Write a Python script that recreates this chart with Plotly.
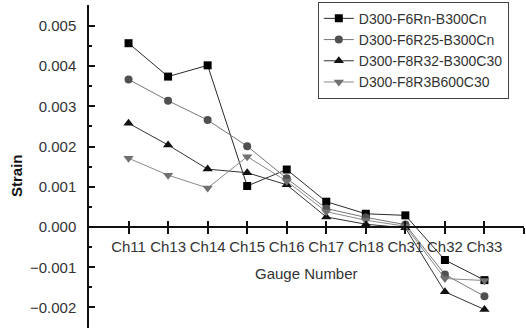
import plotly.graph_objects as go

categories = ["Ch11", "Ch13", "Ch14", "Ch15", "Ch16", "Ch17", "Ch18", "Ch31", "Ch32", "Ch33"]
s_rn = [0.00457, 0.00374, 0.00402, 0.00102, 0.00143, 0.00063, 0.00033, 0.00029, -0.00082, -0.00132]
s_r25 = [0.00367, 0.00314, 0.00266, 0.00201, 0.00121, 0.00046, 0.00024, 0.00006, -0.00118, -0.00172]
s_r32 = [0.00258, 0.00204, 0.00144, 0.00135, 0.00105, 0.00025, 0.00007, -0.00002, -0.00161, -0.00205]
s_r3b = [0.00171, 0.00129, 0.00097, 0.00175, 0.00114, 0.00038, 0.00017, 0.00002, -0.00128, -0.00133]
names = ["D300-F6Rn-B300Cn", "D300-F6R25-B300Cn", "D300-F8R32-B300C30", "D300-F8R3B600C30"]
y_ticks = [-0.002, -0.001, 0.0, 0.001, 0.002, 0.003, 0.004, 0.005]

FONT = "Liberation Sans, Arial, sans-serif"
xpos = list(range(len(categories)))
series = [s_rn, s_r25, s_r32, s_r3b]
symbols = ["square", "circle", "triangle-up", "triangle-down"]
mcolors = ["#000000", "#505050", "#111111", "#707070"]
lcolors = ["#2a2a2a", "#777777", "#333333", "#8a8a8a"]

fig = go.Figure()
for vals, nm, sym, mc, lc in zip(series, names, symbols, mcolors, lcolors):
    fig.add_trace(go.Scatter(
        x=xpos, y=vals, name=nm, mode="lines+markers",
        line=dict(color=lc, width=1),
        marker=dict(symbol=sym, size=8 if sym in ("square", "circle") else 9, color=mc),
    ))

ymin, ymax = -0.00251, 0.00552
zero_frac = -ymin / (ymax - ymin)

fig.update_layout(
    width=526, height=329,
    margin=dict(l=89, r=2, t=5, b=1, autoexpand=False),
    paper_bgcolor="white", plot_bgcolor="white",
    font=dict(family=FONT, size=15, color="#333333"),
    showlegend=True,
    legend=dict(
        x=0.526, y=1.01, xanchor="left", yanchor="top",
        bordercolor="#444444", borderwidth=1, bgcolor="white",
        font=dict(family=FONT, size=14, color="#333333"),
        tracegroupgap=0, itemwidth=30,
    ),
    xaxis=dict(
        range=[-1, 10], tickmode="array",
        tickvals=list(range(11)), ticktext=categories + [""],
        anchor="free", position=zero_frac, automargin=False,
        showline=True, linecolor="#111111", linewidth=1.5,
        ticks="outside", ticklen=6, tickwidth=1.5, tickcolor="#111111",
        showgrid=False, zeroline=False,
        tickfont=dict(family=FONT, size=15, color="#333333"),
    ),
    xaxis2=dict(
        range=[-1, 10], tickmode="array", tickvals=list(range(11)),
        overlaying="x", anchor="free", position=zero_frac, automargin=False,
        showline=False, ticks="inside", ticklen=6, tickwidth=1.5, tickcolor="#111111",
        showticklabels=False, showgrid=False, zeroline=False,
    ),
    yaxis=dict(
        range=[ymin, ymax], tickmode="array", tickvals=y_ticks,
        tickformat=".3f", automargin=False,
        showline=True, linecolor="#111111", linewidth=1.5,
        ticks="inside", ticklen=6, tickwidth=1.5, tickcolor="#111111",
        minor=dict(ticks="inside", ticklen=3, dtick=0.0005, tick0=0, tickcolor="#111111", tickwidth=1.5),
        showgrid=False, zeroline=False, ticklabelstandoff=8,
        tickfont=dict(family=FONT, size=15, color="#333333"),
    ),
    annotations=[
        dict(text="Gauge Number", xref="paper", yref="paper", x=0.5, y=0.17,
             xanchor="center", yanchor="middle", showarrow=False,
             font=dict(family=FONT, size=15, color="#333333")),
        dict(text="<b>Strain</b>", xref="paper", yref="paper", x=-0.1655, y=0.4706,
             xanchor="center", yanchor="middle", showarrow=False, textangle=-90,
             font=dict(family=FONT, size=15, color="#111111")),
    ],
)
# dummy trace to activate xaxis2 for crossing ticks
fig.add_trace(go.Scatter(x=[None], y=[None], xaxis="x2", showlegend=False, hoverinfo="skip"))

fig.write_html("out.html", config={"displayModeBar": False},
               post_script="document.body.style.margin='0';document.body.style.overflow='hidden';")
